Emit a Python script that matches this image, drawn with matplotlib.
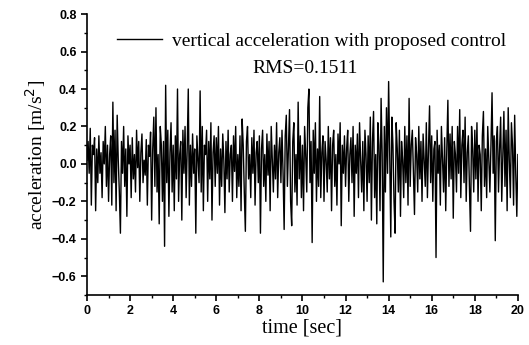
import matplotlib
matplotlib.use("Agg")
import matplotlib.pyplot as plt
from matplotlib.ticker import MultipleLocator
import numpy as np

dt = 0.05
accel = [
    # 0 s
    0.02, 0.12, -0.05, 0.19, -0.22, 0.10, 0.05, 0.14, -0.25, 0.08, -0.10, 0.15, -0.05, 0.06, -0.18, 0.12, 0.00, 0.20, -0.12, 0.10,
    # 1 s
    -0.20, 0.05, 0.15, -0.22, 0.33, -0.10, 0.18, -0.25, 0.26, 0.02, -0.15, -0.37, 0.12, -0.05, 0.20, -0.12, 0.08, -0.28, 0.15, 0.00,
    # 2 s
    0.10, -0.18, 0.14, -0.08, 0.05, -0.15, 0.18, -0.02, 0.12, -0.20, 0.06, 0.16, -0.10, 0.02, -0.06, 0.13, -0.22, 0.10, 0.04, 0.17,
    # 3 s
    -0.30, 0.08, 0.25, -0.12, 0.30, -0.15, 0.05, -0.32, 0.20, 0.10, -0.20, 0.12, -0.44, 0.42, -0.10, 0.18, -0.28, 0.06, 0.22, -0.15,
    # 4 s
    0.10, -0.25, 0.15, -0.08, 0.40, -0.20, 0.05, 0.12, -0.30, 0.18, -0.05, 0.20, -0.18, 0.08, 0.40, -0.22, 0.10, -0.12, 0.16, -0.05,
    # 5 s
    0.08, -0.37, 0.15, 0.02, -0.10, 0.39, -0.15, 0.20, -0.25, 0.10, 0.05, 0.18, -0.20, 0.12, -0.08, 0.22, -0.30, 0.06, 0.15, -0.12,
    # 6 s
    0.14, -0.05, 0.20, -0.22, 0.08, -0.12, 0.16, 0.02, -0.26, 0.12, -0.08, 0.18, -0.15, 0.05, 0.10, -0.20, 0.15, -0.04, 0.20, -0.18,
    # 7 s
    0.05, -0.12, 0.15, -0.25, 0.24, 0.10, -0.15, -0.36, 0.12, 0.20, -0.08, 0.05, -0.18, 0.14, -0.05, 0.18, -0.22, 0.06, 0.12, -0.10,
    # 8 s
    0.15, -0.37, 0.08, 0.18, -0.12, 0.05, -0.20, 0.16, -0.06, 0.12, -0.25, 0.20, 0.02, -0.15, 0.10, -0.08, 0.22, -0.18, 0.06, 0.14,
    # 9 s
    -0.10, 0.18, -0.05, -0.35, 0.15, 0.26, -0.12, 0.08, 0.29, -0.20, -0.33, 0.12, 0.22, -0.15, 0.05, -0.22, 0.33, -0.08, 0.15, -0.18,
    # 10 s
    0.10, -0.25, 0.20, 0.05, -0.15, 0.30, 0.40, -0.10, 0.12, -0.42, 0.18, -0.05, 0.22, -0.20, 0.08, -0.12, 0.36, -0.18, 0.06, 0.15,
    # 11 s
    -0.20, 0.12, 0.02, -0.15, 0.20, -0.08, 0.14, -0.25, 0.10, 0.18, -0.12, 0.05, -0.22, 0.16, 0.00, 0.22, -0.33, 0.10, -0.05, 0.15,
    # 12 s
    -0.12, 0.08, 0.18, -0.20, 0.05, 0.14, -0.10, 0.20, -0.28, 0.10, -0.05, 0.16, -0.18, 0.22, 0.02, -0.15, 0.12, -0.25, 0.18, 0.05,
    # 13 s
    -0.20, 0.15, -0.10, 0.25, -0.30, 0.12, 0.28, -0.18, 0.05, -0.32, 0.22, 0.10, -0.25, 0.35, 0.05, -0.63, 0.20, -0.15, 0.30, -0.05,
    # 14 s
    0.44, 0.05, -0.39, 0.25, 0.10, -0.20, -0.37, 0.22, 0.08, -0.15, 0.18, -0.28, 0.12, 0.02, -0.18, 0.20, -0.10, 0.15, -0.22, 0.35,
    # 15 s
    -0.12, 0.10, 0.18, -0.05, -0.27, 0.14, 0.05, -0.15, 0.20, -0.08, 0.12, -0.20, 0.16, 0.02, -0.12, 0.22, -0.18, 0.08, 0.31, -0.10,
    # 16 s
    0.15, -0.20, 0.08, 0.12, -0.50, 0.18, -0.05, 0.10, -0.22, 0.20, 0.02, -0.15, 0.14, -0.25, 0.08, 0.34, -0.12, 0.16, -0.08, 0.20,
    # 17 s
    -0.29, 0.12, 0.05, -0.15, 0.20, -0.05, 0.29, -0.18, 0.10, 0.18, -0.10, 0.25, -0.20, 0.06, 0.15, -0.12, -0.36, 0.20, 0.08, -0.15,
    # 18 s
    0.18, -0.08, 0.22, -0.20, 0.10, 0.05, -0.25, 0.15, 0.28, -0.12, 0.08, -0.18, 0.20, 0.02, -0.15, 0.10, 0.38, -0.05, 0.15, -0.41,
    # 19 s
    0.12, 0.20, -0.15, 0.08, 0.25, -0.20, 0.05, 0.28, -0.12, 0.18, -0.25, 0.30, 0.02, -0.18, 0.22, 0.10, -0.22, 0.26, -0.05, -0.28,
    # 20 s
    0.05,
]
tiempo = np.arange(len(accel)) * dt

serif = "Liberation Serif"
sans = "Liberation Sans"

fig = plt.figure(figsize=(5.29, 3.45), dpi=100)
ax = fig.add_axes([0.1645, 0.145, 0.8145, 0.814])

ax.plot(tiempo, accel, color="black", linewidth=1.0,
        label="vertical acceleration with proposed control")

ax.set_xlim(0, 20)
ax.set_ylim(-0.7, 0.8)
ax.xaxis.set_major_locator(MultipleLocator(2))
ax.xaxis.set_minor_locator(MultipleLocator(1))
ax.yaxis.set_major_locator(MultipleLocator(0.2))
ax.yaxis.set_minor_locator(MultipleLocator(0.1))
ax.set_yticks([-0.6, -0.4, -0.2, 0.0, 0.2, 0.4, 0.6, 0.8])

for s in ["top", "right"]:
    ax.spines[s].set_visible(False)
for s in ["left", "bottom"]:
    ax.spines[s].set_linewidth(1.2)

ax.tick_params(which="major", direction="out", length=4, width=1.2)
ax.tick_params(which="minor", direction="out", length=2, width=1)
for lab in ax.get_xticklabels() + ax.get_yticklabels():
    lab.set_family(sans)
    lab.set_fontsize(9)
    lab.set_fontweight("bold")

ax.set_xlabel("time [sec]", family=serif, fontsize=14.5, labelpad=1)
ax.set_ylabel("acceleration [m/s$^2$]", family=serif, fontsize=14, labelpad=3)

leg = ax.legend(loc="center left", bbox_to_anchor=(0.07, 0.904), frameon=False,
                borderpad=0, borderaxespad=0, handlelength=2.3, handletextpad=0.5,
                prop={"family": serif, "size": 14})
ax.text(0.506, 0.808, "RMS=0.1511", transform=ax.transAxes, ha="center", va="center",
        family=serif, fontsize=14)

fig.savefig("out.png", dpi=100)
